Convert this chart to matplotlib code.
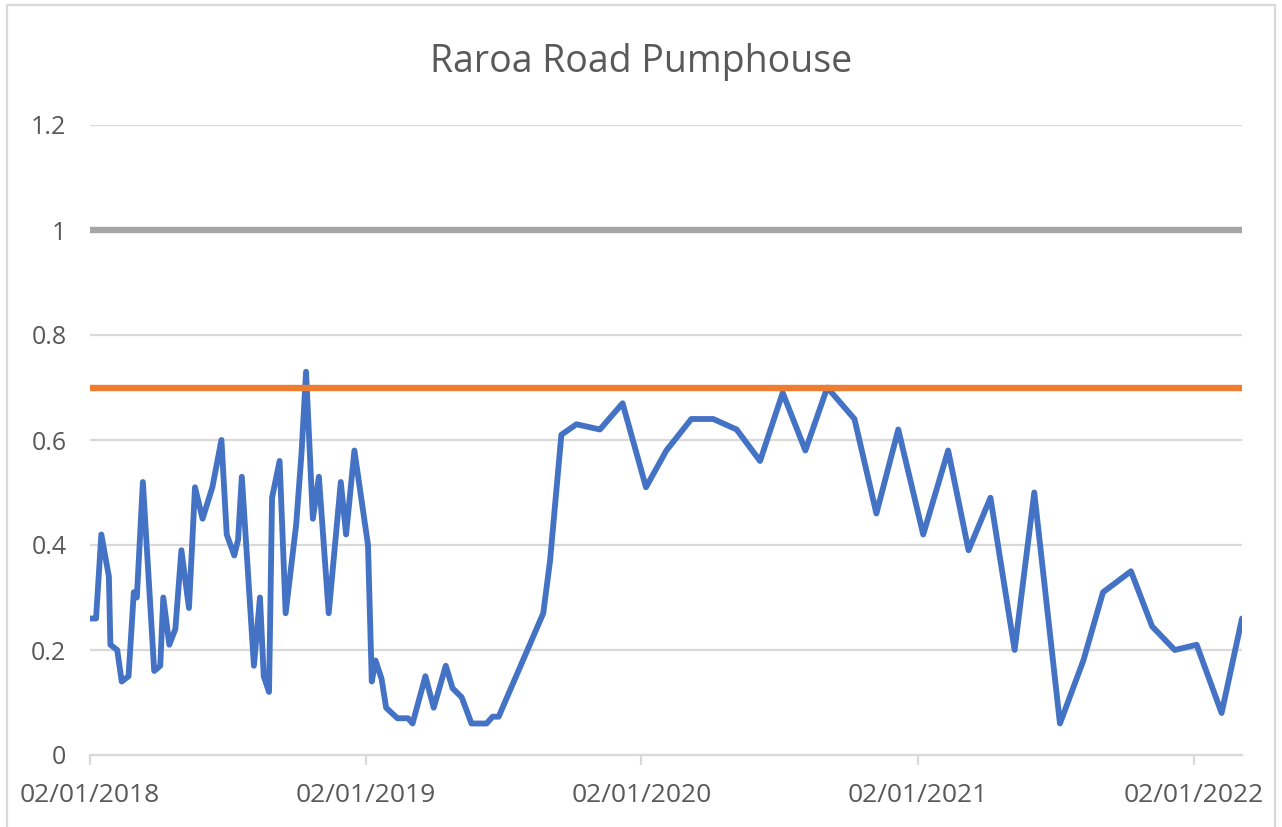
import pandas as pd
import matplotlib
matplotlib.use("Agg")
import matplotlib.pyplot as plt
import matplotlib.dates as mdates
from matplotlib.patches import Rectangle

# ============================================
# DATA
# ============================================

dates = [
    "2018-01-02", "2018-01-10", "2018-01-17", "2018-01-27", "2018-01-29",
    "2018-02-07", "2018-02-13", "2018-02-22", "2018-03-01", "2018-03-05",
    "2018-03-13", "2018-03-28", "2018-04-05", "2018-04-09", "2018-04-17",
    "2018-04-25", "2018-05-03", "2018-05-13", "2018-05-21", "2018-05-31",
    "2018-06-13", "2018-06-25", "2018-07-02", "2018-07-12", "2018-07-17",
    "2018-07-22", "2018-08-07", "2018-08-15", "2018-08-20", "2018-08-27",
    "2018-08-31", "2018-09-10", "2018-09-18", "2018-10-02", "2018-10-09",
    "2018-10-15", "2018-10-24", "2018-11-01", "2018-11-14", "2018-11-30",
    "2018-12-07", "2018-12-18", "2019-01-05", "2019-01-10", "2019-01-15",
    "2019-01-23", "2019-01-29", "2019-02-13", "2019-02-27", "2019-03-05",
    "2019-03-22", "2019-04-02", "2019-04-18", "2019-04-27", "2019-05-09",
    "2019-05-22", "2019-06-11", "2019-06-19", "2019-06-27", "2019-08-25",
    "2019-09-03", "2019-09-18", "2019-10-08", "2019-11-08", "2019-12-08",
    "2020-01-08", "2020-02-04", "2020-03-08", "2020-04-06", "2020-05-07",
    "2020-06-07", "2020-07-07", "2020-08-06", "2020-09-04", "2020-10-10",
    "2020-11-08", "2020-12-07", "2021-01-09", "2021-02-11", "2021-03-10",
    "2021-04-08", "2021-05-10", "2021-06-05", "2021-07-09", "2021-08-09",
    "2021-09-04", "2021-10-11", "2021-11-08", "2021-12-08", "2022-01-06",
    "2022-02-08", "2022-03-07",
]

values = [
    0.26, 0.26, 0.42, 0.34, 0.21,
    0.20, 0.14, 0.15, 0.31, 0.30,
    0.52, 0.16, 0.17, 0.30, 0.21,
    0.24, 0.39, 0.28, 0.51, 0.45,
    0.51, 0.60, 0.42, 0.38, 0.41,
    0.53, 0.17, 0.30, 0.15, 0.12,
    0.49, 0.56, 0.27, 0.44, 0.575,
    0.73, 0.45, 0.53, 0.27, 0.52,
    0.42, 0.58, 0.40, 0.14, 0.18,
    0.145, 0.09, 0.07, 0.07, 0.06,
    0.15, 0.09, 0.17, 0.127, 0.11,
    0.06, 0.06, 0.073, 0.073, 0.27,
    0.37, 0.61, 0.63, 0.62, 0.67,
    0.51, 0.58, 0.64, 0.64, 0.62,
    0.56, 0.69, 0.58, 0.70, 0.64,
    0.46, 0.62, 0.42, 0.58, 0.39,
    0.49, 0.20, 0.50, 0.06, 0.18,
    0.31, 0.35, 0.245, 0.20, 0.21,
    0.08, 0.26,
]

limit_upper = 1.0     # grey line
limit_trigger = 0.7   # orange line

y_ticks = [0, 0.2, 0.4, 0.6, 0.8, 1.0, 1.2]
y_tick_labels = ["0", "0.2", "0.4", "0.6", "0.8", "1", "1.2"]
x_ticks = ["2018-01-02", "2019-01-02", "2020-01-02", "2021-01-02", "2022-01-02"]

# ============================================
# CHART
# ============================================

plt.rcParams['font.family'] = ['Open Sans', 'DejaVu Sans']
text_col = '#595959'
grid_col = '#d9d9d9'

x = pd.to_datetime(dates)
ends = [x[0], x[-1]]

fig = plt.figure(figsize=(12.82, 8.27), dpi=100)
ax = fig.add_axes([90 / 1282, 1 - 755 / 827, (1242 - 90) / 1282, (755 - 125) / 827])

ax.plot(x, values, color='#4472c4', linewidth=4.2, solid_joinstyle='round',
        solid_capstyle='round', zorder=3)
ax.plot(ends, [limit_trigger] * 2, color='#ed7d31', linewidth=4.6, zorder=4,
        solid_capstyle='butt')
ax.plot(ends, [limit_upper] * 2, color='#a5a5a5', linewidth=4.6, zorder=4,
        solid_capstyle='butt')

ax.set_xlim(ends[0], ends[1])
ax.set_ylim(0, 1.2)
ax.set_yticks(y_ticks)
ax.set_yticklabels(y_tick_labels)
ax.set_xticks(pd.to_datetime(x_ticks))
ax.xaxis.set_major_formatter(mdates.DateFormatter('%d/%m/%Y'))

ax.grid(True, axis='y', color=grid_col, linewidth=1.6)
ax.set_axisbelow(True)
for side in ['top', 'right', 'left']:
    ax.spines[side].set_visible(False)
ax.spines['bottom'].set_color(grid_col)
ax.spines['bottom'].set_linewidth(1.6)

ax.tick_params(axis='y', length=0, pad=17, labelsize=18, labelcolor=text_col)
ax.tick_params(axis='x', length=7, width=1.6, color=grid_col, pad=13,
               labelsize=19, labelcolor=text_col)

fig.text(0.5, 1 - 62 / 827, "Raroa Road Pumphouse", ha='center', va='center',
         fontsize=27, color=text_col)

# chart area border
fig.patches.append(Rectangle((7 / 1282, -0.02), (1275 - 7) / 1282, 1.02 - 5 / 827,
                             transform=fig.transFigure, fill=False,
                             edgecolor=grid_col, linewidth=1.6))

fig.savefig("out.png", dpi=100)
